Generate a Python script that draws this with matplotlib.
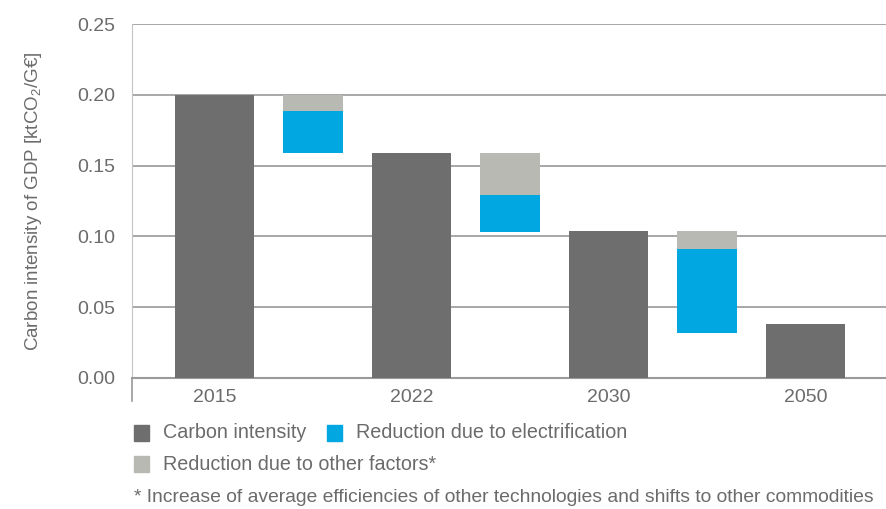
import matplotlib
matplotlib.use("Agg")
import matplotlib.pyplot as plt
from matplotlib.patches import Rectangle

years = ["2015", "2022", "2030", "2050"]
carbon_intensity = [0.200, 0.159, 0.104, 0.038]
reduction_other = [0.0114, 0.0297, 0.0128]
reduction_electrification = [0.0295, 0.0259, 0.0594]

DARK = "#6e6e6e"
BLUE = "#00a7e1"
LIGHT = "#b9b9b3"
TEXT = "#6b6b6b"
GRID = "#a0a0a0"

family = "Liberation Sans"
plt.rcParams["font.family"] = [family, "DejaVu Sans"]
plt.rcParams["mathtext.fontset"] = "custom"
plt.rcParams["mathtext.rm"] = family
plt.rcParams["mathtext.it"] = family

fig = plt.figure(figsize=(8.86, 5.09), dpi=100)
ax = fig.add_axes([0.149, 0.2574, 0.851, 0.6954])

x = list(range(len(years)))
ax.bar(x, carbon_intensity, width=0.40, color=DARK, zorder=3)

for i in range(len(reduction_other)):
    start = carbon_intensity[i]
    mid = start - reduction_other[i]
    ax.bar(i + 0.5, reduction_other[i], bottom=mid, width=0.305, color=LIGHT, zorder=3)
    ax.bar(i + 0.5, reduction_electrification[i], bottom=mid - reduction_electrification[i],
           width=0.305, color=BLUE, zorder=3)

ax.set_xlim(-0.419, 3.409)
ax.set_ylim(0, 0.25)
ax.set_yticks([0, 0.05, 0.10, 0.15, 0.20, 0.25])
ax.set_yticklabels(["0.00", "0.05", "0.10", "0.15", "0.20", "0.25"])
ax.set_xticks(x)
ax.set_xticklabels(years)
ax.tick_params(length=0, labelsize=14, colors=TEXT)
ax.tick_params(axis="y", pad=12)
ax.tick_params(axis="x", pad=8)
ax.yaxis.grid(True, color=GRID, linewidth=1.3, zorder=1)
ax.set_axisbelow(True)

for s in ("top", "right"):
    ax.spines[s].set_visible(False)
ax.spines["left"].set_linestyle((0, (1, 1)))
ax.spines["left"].set_color("#c4c4c4")
ax.spines["left"].set_linewidth(0.8)
ax.spines["bottom"].set_color("#9a9a9a")
ax.spines["bottom"].set_linewidth(1.5)
ax.plot([0, 0], [0, -0.065], transform=ax.transAxes, clip_on=False,
        color="#9a9a9a", linewidth=1.2)

ax.set_ylabel(r"Carbon intensity of GDP [ktCO$_2$/G€]", fontsize=13.5, color=TEXT, labelpad=24)

def legend_item(xpx, ypx, color, label):
    fig.patches.append(Rectangle((xpx / 886, 1 - (ypx + 8) / 509), 15 / 886, 16 / 509,
                                 transform=fig.transFigure, color=color, figure=fig))
    fig.text((xpx + 29) / 886, 1 - ypx / 509, label, fontsize=14.2, color=TEXT,
             va="center", ha="left")

legend_item(134, 433, DARK, "Carbon intensity")
legend_item(327, 433, BLUE, "Reduction due to electrification")
legend_item(134, 464, LIGHT, "Reduction due to other factors*")
fig.text(134 / 886, 1 - 497 / 509,
         "* Increase of average efficiencies of other technologies and shifts to other commodities",
         fontsize=13.9, color=TEXT, va="center", ha="left")

fig.savefig("out.png", dpi=100)
